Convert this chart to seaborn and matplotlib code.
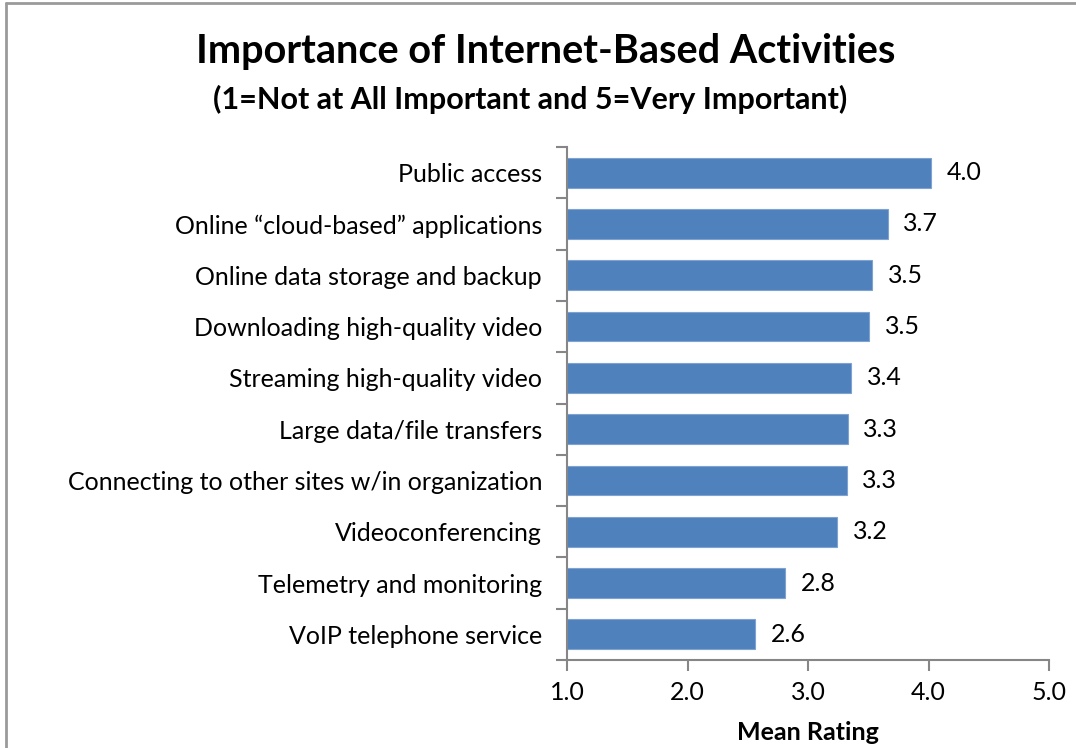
import matplotlib
matplotlib.use("Agg")
import matplotlib.pyplot as plt
import seaborn as sns
import pandas as pd
from matplotlib.lines import Line2D
from matplotlib.ticker import FixedLocator

categories = [
    "Public access",
    "Online \u201ccloud-based\u201d applications",
    "Online data storage and backup",
    "Downloading high-quality video",
    "Streaming high-quality video",
    "Large data/file transfers",
    "Connecting to other sites w/in organization",
    "Videoconferencing",
    "Telemetry and monitoring",
    "VoIP telephone service",
]
values = [4.02, 3.66, 3.53, 3.51, 3.36, 3.33, 3.32, 3.24, 2.81, 2.56]
x_ticks = [1.0, 2.0, 3.0, 4.0, 5.0]

sns.set_theme(style="white")
plt.rcParams["font.family"] = ["Lato", "DejaVu Sans"]
plt.rcParams["text.color"] = "black"
plt.rcParams["xtick.color"] = "black"
plt.rcParams["ytick.color"] = "black"
plt.rcParams["axes.labelcolor"] = "black"

df = pd.DataFrame({"Activity": categories, "Rating": values})

fig = plt.figure(figsize=(10.76, 7.48), dpi=100)
ax = fig.add_axes([567 / 1076, 1 - 660 / 748, (1049 - 567) / 1076, (660 - 147) / 748])

base = 1.0
sns.barplot(data=df, y="Activity", x=[v - base for v in values], left=base, orient="h",
            color="#4F81BD", saturation=1, width=0.58, edgecolor="#7FA3D1", linewidth=0.8, ax=ax)

ax.set_xlim(1.0, 5.0)
ax.set_ylim(len(categories) - 0.5, -0.5)
ax.set_xticks(x_ticks)
ax.set_xticklabels([f"{t:.1f}" for t in x_ticks], fontsize=18)
ax.set_yticks(range(len(categories)))
ax.set_yticklabels(categories, fontsize=18)
ax.yaxis.set_minor_locator(FixedLocator([i - 0.5 for i in range(len(categories) + 1)]))
ax.tick_params(axis="y", which="major", length=0, pad=18)
ax.tick_params(axis="y", which="minor", length=8, width=1.5, color="#868686", direction="out", left=True)
ax.tick_params(axis="x", which="major", length=8, width=1.5, color="#868686", direction="out",
               bottom=True, pad=7, labelcolor="black")

for s in ["top", "right"]:
    ax.spines[s].set_visible(False)
for s in ["left", "bottom"]:
    ax.spines[s].set_color("#868686")
    ax.spines[s].set_linewidth(1.5)

ax.set_ylabel("")
ax.set_xlabel("Mean Rating", fontsize=18, fontweight="bold", labelpad=12)

for i, v in enumerate(values):
    ax.text(v + 0.13, i, f"{v:.1f}", va="center", ha="left", fontsize=18, color="black")

fig.text(546 / 1076, 1 - 52 / 748, "Importance of Internet-Based Activities",
         ha="center", va="center", fontsize=28.5, fontweight="bold", color="black")
fig.text(530 / 1076, 1 - 99 / 748, "(1=Not at All Important and 5=Very Important)",
         ha="center", va="center", fontsize=22, fontweight="bold", color="black")

fig.add_artist(Line2D([6 / 1076, 6 / 1076], [0, 1 - 3 / 748], transform=fig.transFigure,
                      color="#9a9a9a", linewidth=2))
fig.add_artist(Line2D([6 / 1076, 1], [1 - 3 / 748, 1 - 3 / 748], transform=fig.transFigure,
                      color="#9a9a9a", linewidth=2))

fig.savefig("out.png", dpi=100)
